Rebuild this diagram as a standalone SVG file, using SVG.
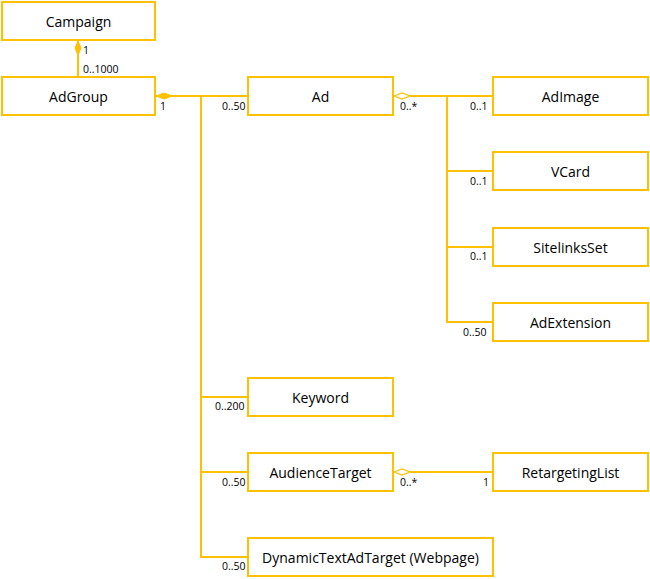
<svg xmlns="http://www.w3.org/2000/svg" width="650" height="579" viewBox="0 0 650 579">
<style>
.box{fill:#fff;stroke:#FFC000;stroke-width:2}
.ln{fill:none;stroke:#FFC000;stroke-width:2}
.t{font-family:"Open Sans","Liberation Sans",sans-serif;font-size:14px;fill:#000;text-anchor:middle;dominant-baseline:central}
.m{font-family:"Open Sans","Liberation Sans",sans-serif;font-size:10.5px;fill:#000}
.fd{fill:#FFC000;stroke:#FFC000;stroke-width:1}
.hd{fill:#fff;stroke:#FFC000;stroke-width:1.2}
</style>
<rect width="650" height="579" fill="#fff"/>
<g id="connectors">
<path class="ln" d="M78 40V77"/>
<path class="fd" d="M78 41L81 48L78 55L75 48Z"/>
<path class="ln" d="M155 96H248"/>
<path class="fd" d="M156 96L164 93L172 96L164 99Z"/>
<path class="ln" d="M201 96V557H248"/>
<path class="ln" d="M201 397H248M201 472H248"/>
<path class="ln" d="M410 96H493"/>
<path class="hd" d="M394 96L402 93L410 96L402 99Z"/>
<path class="ln" d="M447 96V322H493M447 171H493M447 247H493"/>
<path class="ln" d="M410 472H493"/>
<path class="hd" d="M394 472L402 469L410 472L402 475Z"/>
<text class="m" x="83" y="54">1</text>
<text class="m" x="83" y="73">0..1000</text>
<text class="m" x="160" y="110">1</text>
<text class="m" x="222" y="110">0..50</text>
<text class="m" x="400" y="110">0..*</text>
<text class="m" x="470" y="110">0..1</text>
<text class="m" x="470" y="185">0..1</text>
<text class="m" x="470" y="260">0..1</text>
<text class="m" x="463" y="336">0..50</text>
<text class="m" x="215" y="410">0..200</text>
<text class="m" x="222" y="486">0..50</text>
<text class="m" x="222" y="570">0..50</text>
<text class="m" x="400" y="486">0..*</text>
<text class="m" x="483" y="486">1</text>
</g>
<g id="Campaign"><rect class="box" x="2" y="2" width="153" height="38"/><text class="t" x="78.5" y="21">Campaign</text></g>
<g id="AdGroup"><rect class="box" x="2" y="77" width="153" height="38"/><text class="t" x="78.5" y="96">AdGroup</text></g>
<g id="Ad"><rect class="box" x="248" y="77" width="145" height="38"/><text class="t" x="320.5" y="96">Ad</text></g>
<g id="AdImage"><rect class="box" x="493" y="77" width="155" height="38"/><text class="t" x="570.5" y="96">AdImage</text></g>
<g id="VCard"><rect class="box" x="493" y="152" width="155" height="38"/><text class="t" x="570.5" y="171">VCard</text></g>
<g id="SitelinksSet"><rect class="box" x="493" y="228" width="155" height="38"/><text class="t" x="570.5" y="247">SitelinksSet</text></g>
<g id="AdExtension"><rect class="box" x="493" y="303" width="155" height="38"/><text class="t" x="570.5" y="322">AdExtension</text></g>
<g id="Keyword"><rect class="box" x="248" y="378" width="145" height="38"/><text class="t" x="320.5" y="397">Keyword</text></g>
<g id="AudienceTarget"><rect class="box" x="248" y="453" width="145" height="38"/><text class="t" x="320.5" y="472">AudienceTarget</text></g>
<g id="RetargetingList"><rect class="box" x="493" y="453" width="155" height="38"/><text class="t" x="570.5" y="472">RetargetingList</text></g>
<g id="DynamicTextAdTarget"><rect class="box" x="248" y="538" width="245" height="38"/><text class="t" x="370.5" y="557">DynamicTextAdTarget (Webpage)</text></g>
</svg>
